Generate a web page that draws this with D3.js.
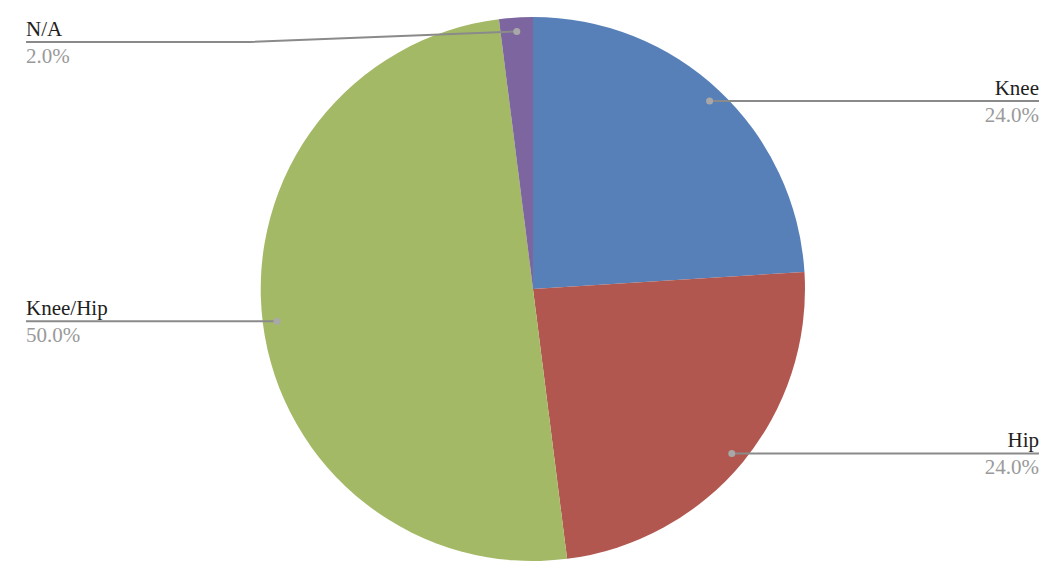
<!DOCTYPE html>
<html>
<head>
<meta charset="utf-8">
<script src="https://cdn.jsdelivr.net/npm/d3@7"></script>
<style>
  body { margin: 0; background: #fff; }
  text { font-family: "Liberation Serif", "DejaVu Serif", serif; }
</style>
</head>
<body>
<script>
var categories = ["Knee", "Hip", "Knee/Hip", "N/A"];
var values = [24, 24, 50, 2];
var colors = ["#5880b8", "#b1574f", "#a3b966", "#7d659f"];

var w = 1064, h = 580;
var cx = 533, cy = 289, radius = 272;
var dotRadius = 258;
var leftEdge = 26, rightEdge = 1039, elbowLeft = 250, elbowRight = 816;
var minLabelY = 42;

var total = d3.sum(values);
var data = categories.map(function(c, i) { return {name: c, value: values[i], color: colors[i]}; });

var svg = d3.select("body").append("svg")
    .attr("width", w)
    .attr("height", h);

var g = svg.append("g")
    .attr("transform", "translate(" + cx + "," + cy + ")");

var pie = d3.pie().sort(null).value(function(d) { return d.value; });
var arc = d3.arc().innerRadius(0).outerRadius(radius);
var dotArc = d3.arc().innerRadius(dotRadius).outerRadius(dotRadius);

var arcs = pie(data);

// slices
g.selectAll(".slice")
    .data(arcs)
    .enter().append("path")
    .attr("class", "slice")
    .attr("d", arc)
    .style("fill", function(d) { return d.data.color; })
    .style("stroke", "none");

// leader lines + labels
arcs.forEach(function(d) {
    var mid = (d.startAngle + d.endAngle) / 2;
    var p = dotArc.centroid(d);
    var px = cx + p[0], py = cy + p[1];
    var right = Math.sin(mid) > 0;
    var ly = Math.max(py, minLabelY);
    var edge = right ? rightEdge : leftEdge;
    var elbow = right ? elbowRight : elbowLeft;

    var pts = ly === py ? [[px, py], [edge, ly]] : [[px, py], [elbow, ly], [edge, ly]];

    svg.append("path")
        .attr("d", d3.line()(pts))
        .style("fill", "none")
        .style("stroke", "#8a8a8a")
        .style("stroke-width", 2);

    svg.append("circle")
        .attr("cx", px)
        .attr("cy", py)
        .attr("r", 3.5)
        .style("fill", "#a8a8a8");

    svg.append("text")
        .attr("x", edge)
        .attr("y", ly - 6)
        .attr("text-anchor", right ? "end" : "start")
        .style("font-size", "21px")
        .style("fill", "#1e1e1e")
        .text(d.data.name);

    svg.append("text")
        .attr("x", edge)
        .attr("y", ly + 21)
        .attr("text-anchor", right ? "end" : "start")
        .style("font-size", "21px")
        .style("fill", "#9a9a9a")
        .text(d3.format(".1%")(d.data.value / total));
});
</script>
</body>
</html>
